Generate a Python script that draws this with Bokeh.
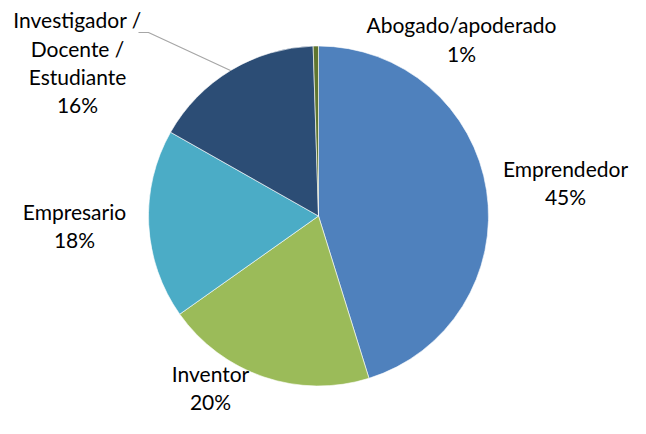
import math
from bokeh.plotting import figure
from bokeh.models import Range1d, ColumnDataSource
from bokeh.core.properties import value
from bokeh.embed import file_html
from bokeh.resources import INLINE

# ---- data ----
categories = ["Emprendedor", "Inventor", "Empresario",
              "Investigador /\nDocente /\nEstudiante", "Abogado/apoderado"]
shares = [45.2, 20.0, 18.0, 16.3, 0.5]
pct_labels = ["45%", "20%", "18%", "16%", "1%"]
colors = ["#4F81BD", "#9BBB59", "#4BACC6", "#2C4D75", "#5F7530"]

# ---- layout (image pixel coordinates, y downward) ----
W, H = 630, 418
CX, CY, R = 318, 215.5, 170
# first-line anchor (center x, y) for each label
label_anchor = [(565, 167.7), (210, 373), (74, 211), (77, 19.3), (461, 24.3)]
LINE_STEP = 28.3
FONT = "Lato"
FONT_SIZE = "21px"

p = figure(width=W, height=H, output_backend="svg", toolbar_location=None,
           x_range=Range1d(0, W), y_range=Range1d(-H, 0),
           min_border=0, background_fill_color="white", border_fill_color="white")
p.axis.visible = False
p.grid.visible = False
p.outline_line_color = None

total = sum(shares)
cum = 0.0
starts, ends = [], []
for s in shares:
    c0 = cum / total
    cum += s
    c1 = cum / total
    starts.append(math.pi / 2 - 2 * math.pi * c0)
    ends.append(math.pi / 2 - 2 * math.pi * c1)

src = ColumnDataSource(dict(start=starts, end=ends, color=colors,
                            x=[CX] * len(shares), y=[-CY] * len(shares)))
p.wedge(x="x", y="y", radius=R, radius_units="screen",
        start_angle="start", end_angle="end", direction="clock",
        fill_color="color", line_color="white", line_width=0.6, source=src)

# leader line for the Investigador label
p.line(x=[138, 148, 230], y=[-32, -32, -70], line_color="#A6A6A6", line_width=1.2)

tx, ty, tt = [], [], []
for cat, pct, (ax, ay) in zip(categories, pct_labels, label_anchor):
    lines = cat.split("\n") + [pct]
    for i, ln in enumerate(lines):
        tx.append(ax)
        ty.append(-(ay + i * LINE_STEP))
        tt.append(ln)

p.text(x=tx, y=ty, text=tt, text_align="center", text_baseline="alphabetic",
       text_font=value(FONT), text_font_size=FONT_SIZE, text_color="#000000")

open("out.html", "w").write(file_html(p, INLINE))
